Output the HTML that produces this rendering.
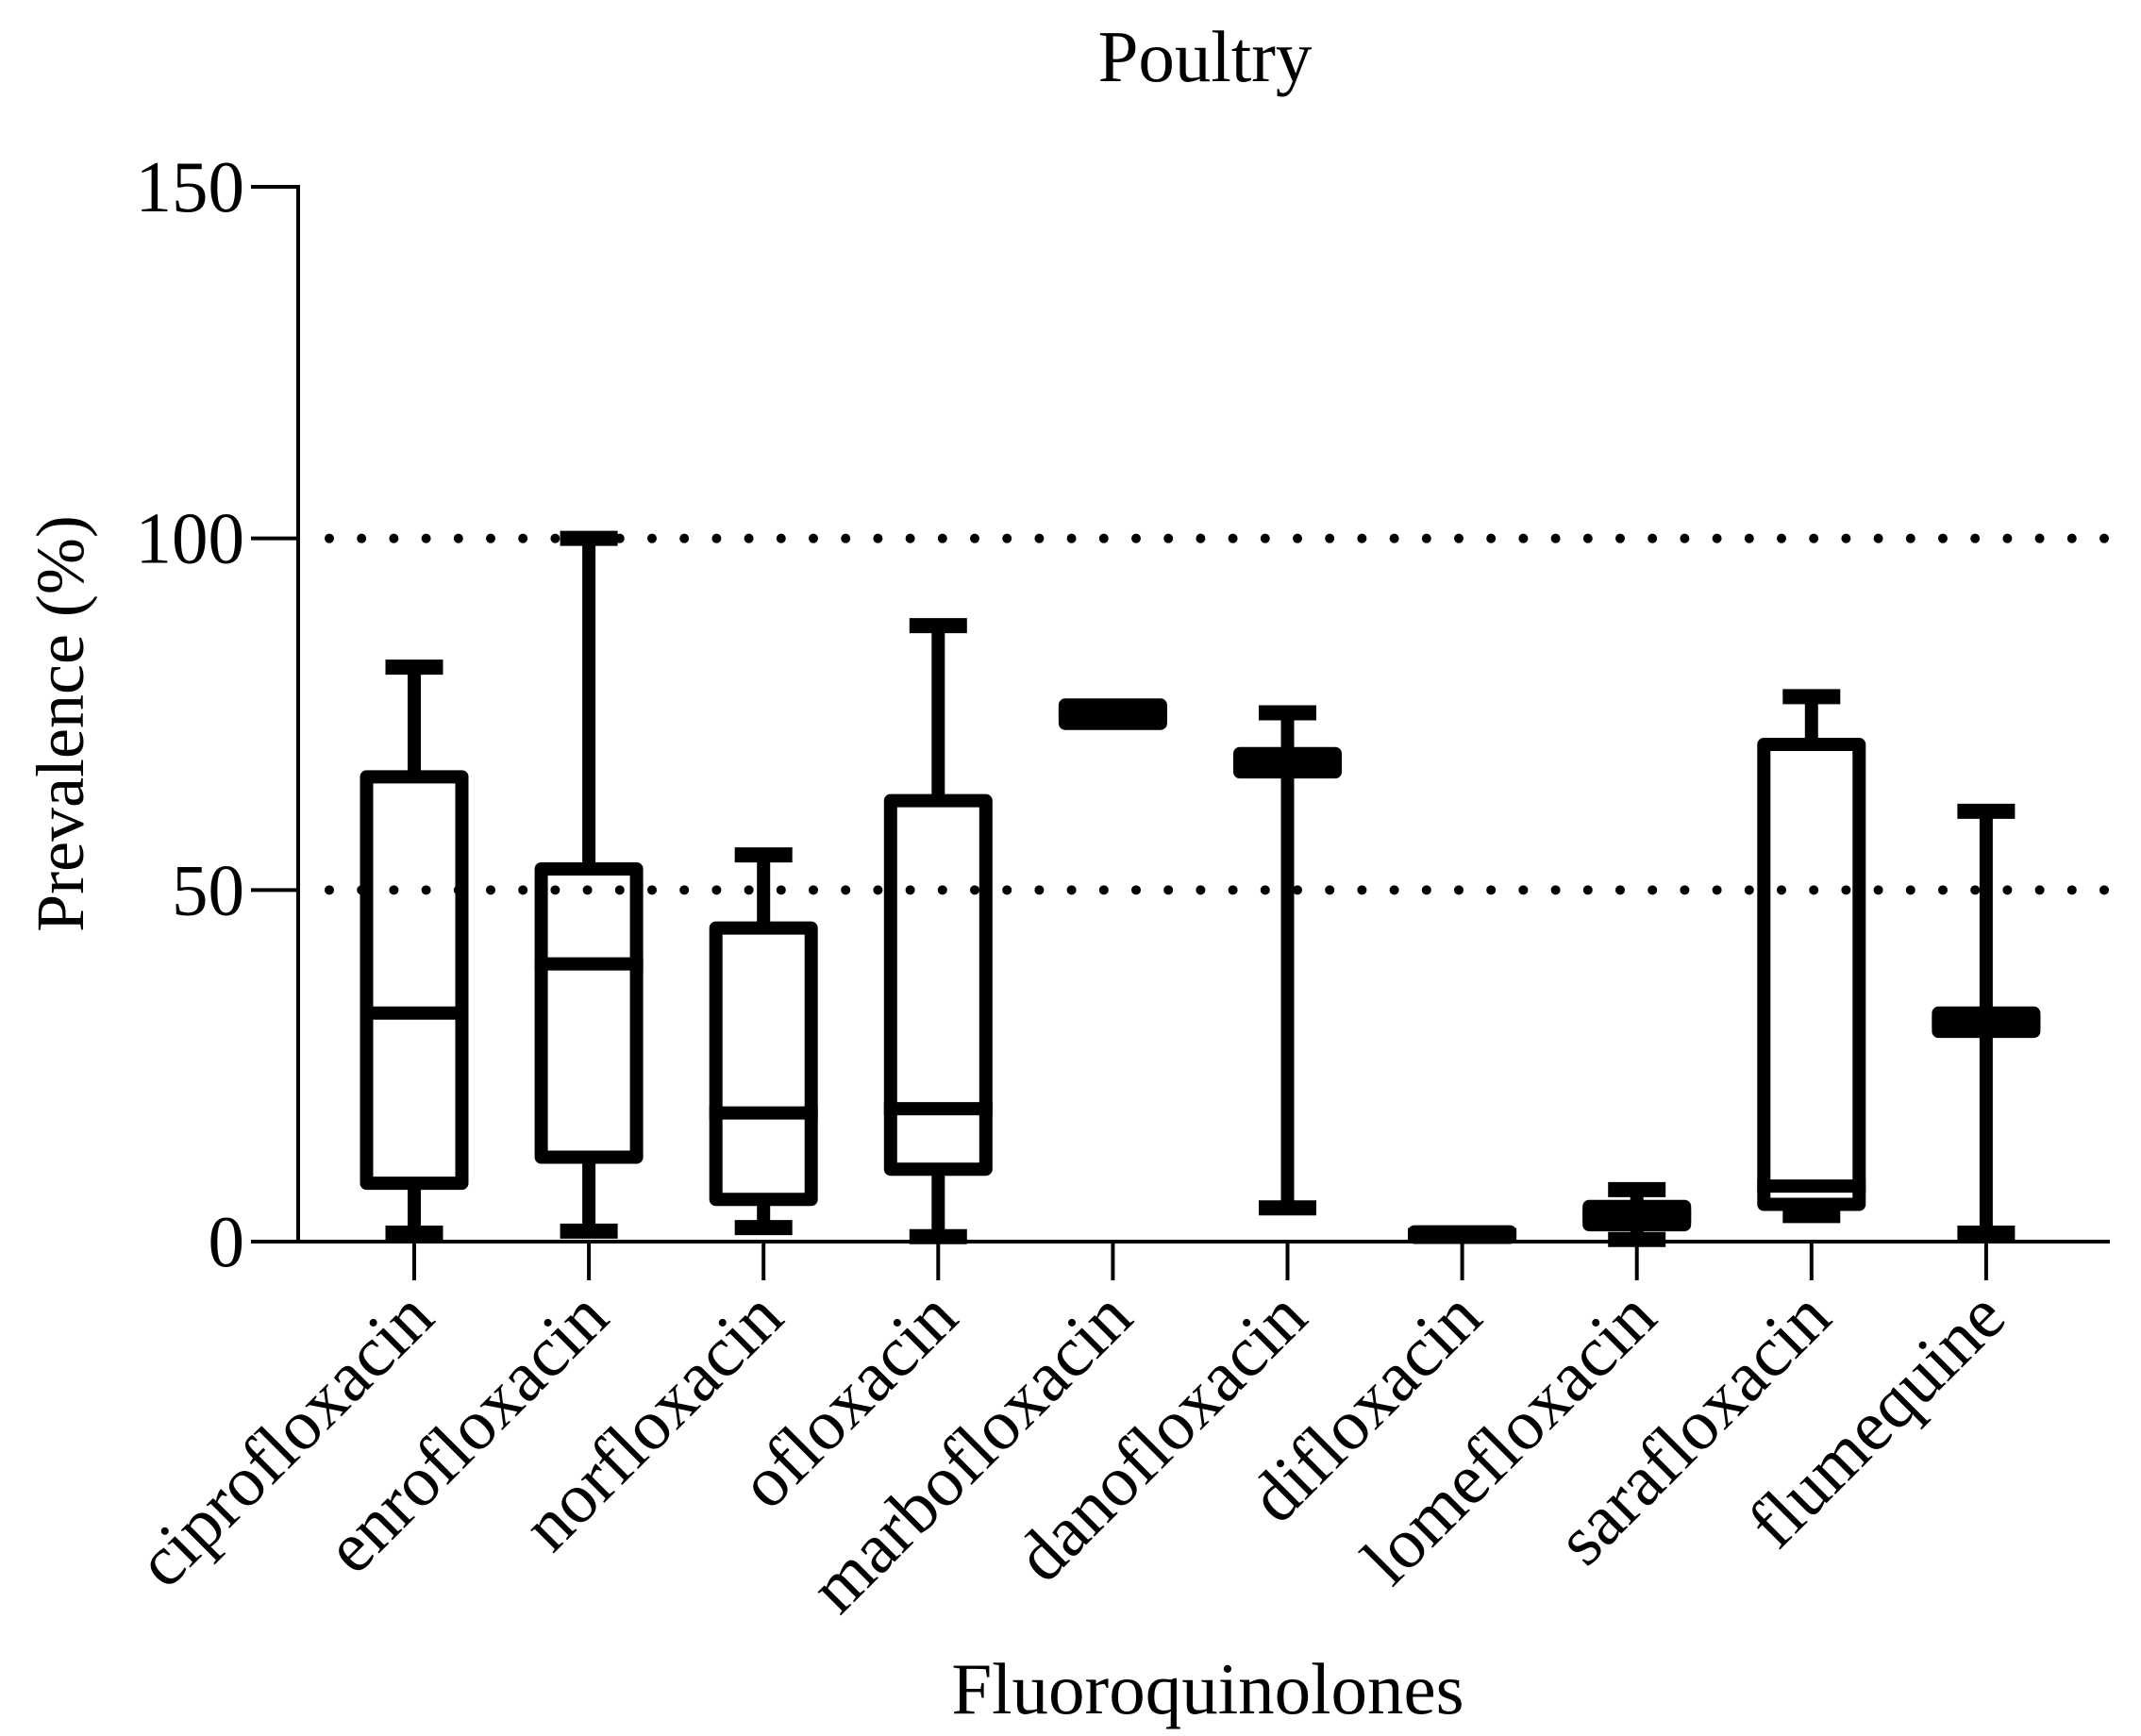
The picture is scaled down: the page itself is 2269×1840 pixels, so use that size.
<!DOCTYPE html>
<html><head><meta charset="utf-8"><style>
html,body{margin:0;padding:0;background:#fff;}
svg{display:block;font-family:"Liberation Serif",serif;}
</style></head><body>
<svg id="chart" width="2269" height="1840" viewBox="0 0 2269 1840">
<text x="1277" y="86" font-size="77" text-anchor="middle">Poultry</text>
<text transform="translate(88,767) rotate(-90)" font-size="72" text-anchor="middle">Prevalence (%)</text>
<text x="1280" y="1816" font-size="77" text-anchor="middle">Fluoroquinolones</text>
<g id="boxes"></g><g id="grid"></g><g id="axes"></g>
</svg>
<script>
const categories=["ciprofloxacin","enrofloxacin","norfloxacin","ofloxacin","marbofloxacin","danofloxacin","difloxacin","lomefloxacin","sarafloxacin","flumequine"];
const mins=[1.2,1.5,2,0.7,75,4.8,1,0.3,3.7,1.2];
const q1s=[8.3,12,6,10.3,73.7,66.8,0.6,2.4,5.3,29.9];
const medians=[32.5,39.5,18.3,18.9,75,68,1,3.7,7.9,31.2];
const q3s=[66.1,53,44.6,62.7,76.3,69.4,1.4,5.0,70.7,32.5];
const maxs=[81.7,100,55,87.6,75,75.2,1,7.4,77.5,61.2];
const yTicks=[0,50,100,150];
const refLines=[50,100];

const NS="http://www.w3.org/2000/svg";
const x0=316,x1=2236,yZero=1316,yTop=198;
const y=v=>yZero-(v/150)*(yZero-yTop);
const xc=i=>439+i*185.1;
function mk(tag,attrs,parent){const e=document.createElementNS(NS,tag);for(const k in attrs)e.setAttribute(k,attrs[k]);parent.appendChild(e);return e;}
const grid=document.getElementById('grid'),boxes=document.getElementById('boxes'),axes=document.getElementById('axes');
refLines.forEach(v=>{
  const l=mk('line',{x1:x0+33,x2:x1,y1:y(v),y2:y(v),stroke:'#000','stroke-width':10,'stroke-linecap':'round','stroke-dasharray':'0 34.2'},grid);
  
  
});
const lw=14,bw=101,cw=61;
categories.forEach((c,i)=>{
  const g=mk('g',{},boxes);
  
  
  const cx=xc(i);
  if(maxs[i]>q3s[i]){mk('line',{x1:cx,x2:cx,y1:y(q3s[i]),y2:y(maxs[i]),stroke:'#000','stroke-width':lw},g);
    mk('line',{x1:cx-cw/2,x2:cx+cw/2,y1:y(maxs[i]),y2:y(maxs[i]),stroke:'#000','stroke-width':lw+2},g);}
  if(mins[i]<q1s[i]){mk('line',{x1:cx,x2:cx,y1:y(q1s[i]),y2:y(mins[i]),stroke:'#000','stroke-width':lw},g);
    mk('line',{x1:cx-cw/2,x2:cx+cw/2,y1:y(mins[i]),y2:y(mins[i]),stroke:'#000','stroke-width':lw+2},g);}
  const yt=y(q3s[i]),yb=y(q1s[i]);
  mk('rect',{x:cx-bw/2,y:yt,width:bw,height:Math.max(yb-yt,0.1),fill:'#fff',stroke:'#000','stroke-width':lw,'stroke-linejoin':'round'},g);
  mk('line',{x1:cx-bw/2-lw/2,x2:cx+bw/2+lw/2,y1:y(medians[i]),y2:y(medians[i]),stroke:'#000','stroke-width':lw},g);
  mk('line',{x1:cx,x2:cx,y1:yZero,y2:yZero+41,stroke:'#000','stroke-width':4},axes);
  const t=mk('text',{transform:`translate(${cx+24},${yZero+84}) rotate(-45)`,'font-size':76,'text-anchor':'end'},axes);
  t.textContent=c;
  
  
});
mk('line',{x1:x0,x2:x0,y1:yTop-2,y2:yZero+2,stroke:'#000','stroke-width':4},axes);
mk('line',{x1:x0-2,x2:x1,y1:yZero,y2:yZero,stroke:'#000','stroke-width':4},axes);
yTicks.forEach(v=>{
  mk('line',{x1:266,x2:x0,y1:y(v),y2:y(v),stroke:'#000','stroke-width':4},axes);
  const t=mk('text',{x:259,y:y(v)+26,'font-size':77,'text-anchor':'end'},axes);
  t.textContent=v;
  
  
});
</script>
</body></html>
